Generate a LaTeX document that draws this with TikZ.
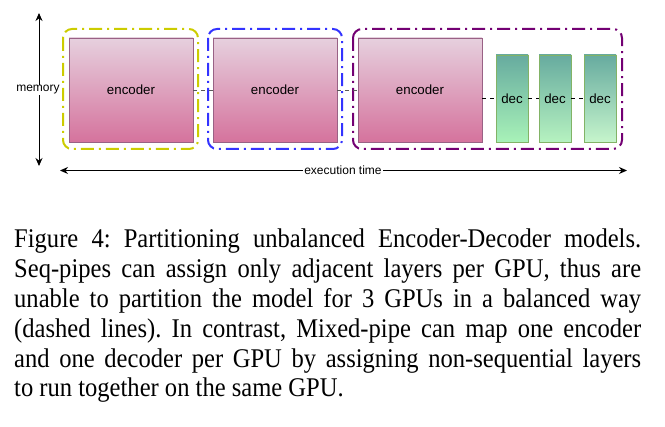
\documentclass[tikz,border=0pt]{standalone}
\usepackage{fontspec}
\setmainfont{Liberation Serif}
\newfontfamily\capfont[FakeStretch=0.91]{Liberation Serif}
\newfontfamily\diafont{Liberation Sans}
\usetikzlibrary{arrows.meta}
\newcommand\capsetup{\capfont\fontsize{27}{29.8}\selectfont\frenchspacing\hyphenpenalty=10000\relax\exhyphenpenalty=10000\relax}
\definecolor{encTop}{HTML}{E6D0DE}
\definecolor{encBot}{HTML}{D5739D}
\definecolor{encLine}{HTML}{996185}
\definecolor{decTop}{HTML}{67AB9F}
\definecolor{decBotA}{HTML}{A8F2B8}
\definecolor{decBotB}{HTML}{B6F2C0}
\definecolor{decBotC}{HTML}{C6F5CC}
\definecolor{decLine}{HTML}{82B366}
\definecolor{gpuYellow}{HTML}{CCCC00}
\definecolor{gpuBlue}{HTML}{3333FF}
\definecolor{gpuPurple}{HTML}{730073}
\tikzset{
  gpubox/.style={rounded corners=9pt, line width=2pt,
    dash pattern=on 13pt off 5pt on 2pt off 5pt},
  encbox/.style={draw=encLine, top color=encTop, bottom color=encBot,
    minimum width=124pt, minimum height=104pt, inner sep=0pt,
    font=\diafont\fontsize{13.3}{15}\selectfont},
  decbox/.style={draw=decLine, top color=decTop,
    minimum width=32pt, minimum height=87pt, inner sep=0pt,
    font=\diafont\fontsize{13.3}{15}\selectfont},
  link/.style={dashed, dash pattern=on 4pt off 4pt, line width=0.8pt},
  axis/.style={line width=0.9pt, {Stealth[length=8pt,width=7pt]}-{Stealth[length=8pt,width=7pt]}},
  axislabel/.style={fill=white, inner sep=1pt, font=\diafont\fontsize{12}{14}\selectfont}
}
\begin{document}
\begin{tikzpicture}[x=1pt,y=-1pt]
\useasboundingbox (0,0) rectangle (665,427);
% GPU groups
\draw[gpubox, draw=gpuYellow] (63,29) rectangle (198,149);
\draw[gpubox, draw=gpuBlue] (208,29) rectangle (342,149);
\draw[gpubox, draw=gpuPurple] (353,29) rectangle (622,149);
% layers
\node[encbox] (enc1) at (131,90) {encoder};
\node[encbox] (enc2) at (275,90) {encoder};
\node[encbox] (enc3) at (420,90) {encoder};
\node[decbox, bottom color=decBotA] (dec1) at (512,98.5) {dec};
\node[decbox, bottom color=decBotB] (dec2) at (555,98.5) {dec};
\node[decbox, bottom color=decBotC] (dec3) at (600,98.5) {dec};
% connectors
\draw[link, draw=black!65] (enc1) -- (enc2);
\draw[link, draw=black!65] (enc2) -- (enc3);
\draw[link] (enc3.east |- dec1) -- (dec1);
\draw[link] (dec1) -- (dec2);
\draw[link] (dec2) -- (dec3);
% axes
\coordinate (memTop) at (39,13);
\coordinate (memBot) at (39,166);
\draw[axis] (memTop) -- (memBot);
\node[axislabel] (mem) at (38,90) {memory};
\coordinate (timeL) at (60,170.5);
\coordinate (timeR) at (627,170.5);
\draw[axis] (timeL) -- (timeR);
\node[axislabel] (time) at (343,170.5) {execution time};
% caption
\node[anchor=north west, inner sep=0pt, text width=627pt, align=justify,
  font=\capsetup] (cap) at (14,229) {Figure 4: Partitioning unbalanced Encoder-Decoder models.\linebreak
Seq-pipes can assign only adjacent layers per GPU, thus are\linebreak
unable to partition the model for 3 GPUs in a balanced way\linebreak
(dashed lines). In contrast, Mixed-pipe can map one encoder\linebreak
and one decoder per GPU by assigning non-sequential layers\linebreak
to run together on the same GPU.};
\end{tikzpicture}
\end{document}
